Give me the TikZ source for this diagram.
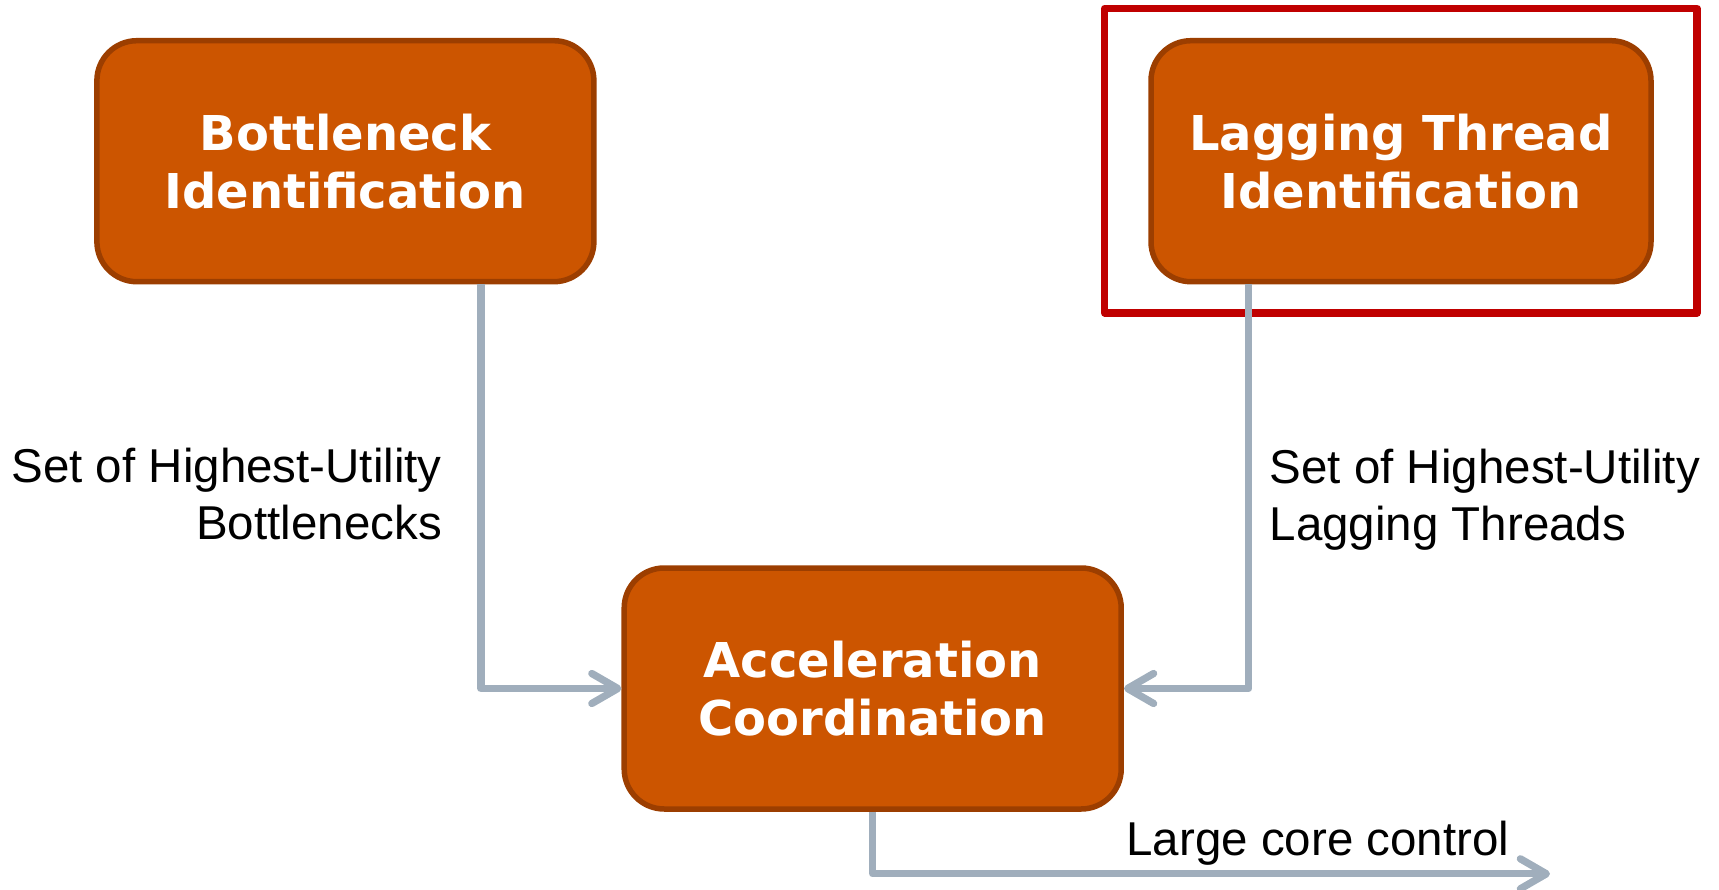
\documentclass[tikz,border=0pt]{standalone}
\usepackage{fontspec}
\setmainfont{Liberation Sans}
\newfontfamily\boxfont{DejaVu Sans}
\usetikzlibrary{arrows.meta}

\definecolor{boxfill}{HTML}{CC5500}
\definecolor{boxedge}{HTML}{9C3E00}
\definecolor{connclr}{HTML}{A0AEBC}
\definecolor{hilite}{HTML}{C00000}

\tikzset{
  stage/.style={draw=boxedge, line width=5.5pt, fill=boxfill, rounded corners=40pt,
    minimum width=497pt, minimum height=241pt, inner sep=0pt,
    text=white, align=center,
    font=\boxfont\bfseries\fontsize{48}{58}\selectfont},
  conn/.style={draw=connclr, line width=7.3pt, line join=round,
    -{Straight Barb[length=26pt,width=30pt,round]}},
  lbl/.style={inner sep=0pt, text=black, font=\fontsize{47.5}{57}\selectfont},
}

\begin{document}
\begin{tikzpicture}[x=1pt, y=-1pt]
  \useasboundingbox (0,0) rectangle (1719,890);

  % highlight frame around the lagging-thread stage
  \draw[hilite, line width=7.3pt, line join=round] (1104.7,8.5) rectangle (1697,313);

  % the three stages
  \node[stage] (bneck) at (345.4,161.2) {Bottleneck\\Identification};
  \node[stage, minimum width=500pt] (lag) at (1401,161.2) {Lagging Thread\\Identification};
  \node[stage] (accel) at (872.7,688.5) {Acceleration\\Coordination};

  % output end of the control path
  \coordinate (ctrl) at (1550,873.8);

  % connectors
  \draw[conn] ([xshift=135.6pt]bneck.south) |- (accel.west);
  \draw[conn] ([xshift=-152.3pt]lag.south) |- (accel.east);
  \draw[conn] (accel.south) |- (ctrl);

  % connector labels
  \node[lbl, align=right, anchor=east] (lblneck) at (442,494.5)
    {Set of Highest-Utility\\Bottlenecks};
  \node[lbl, align=left, anchor=west] (lbllag) at (1269.5,500)
    {Set of Highest-Utility\\Lagging Threads};
  \node[lbl] (lblctrl) at (1318,843) {Large core control};
\end{tikzpicture}
\end{document}
